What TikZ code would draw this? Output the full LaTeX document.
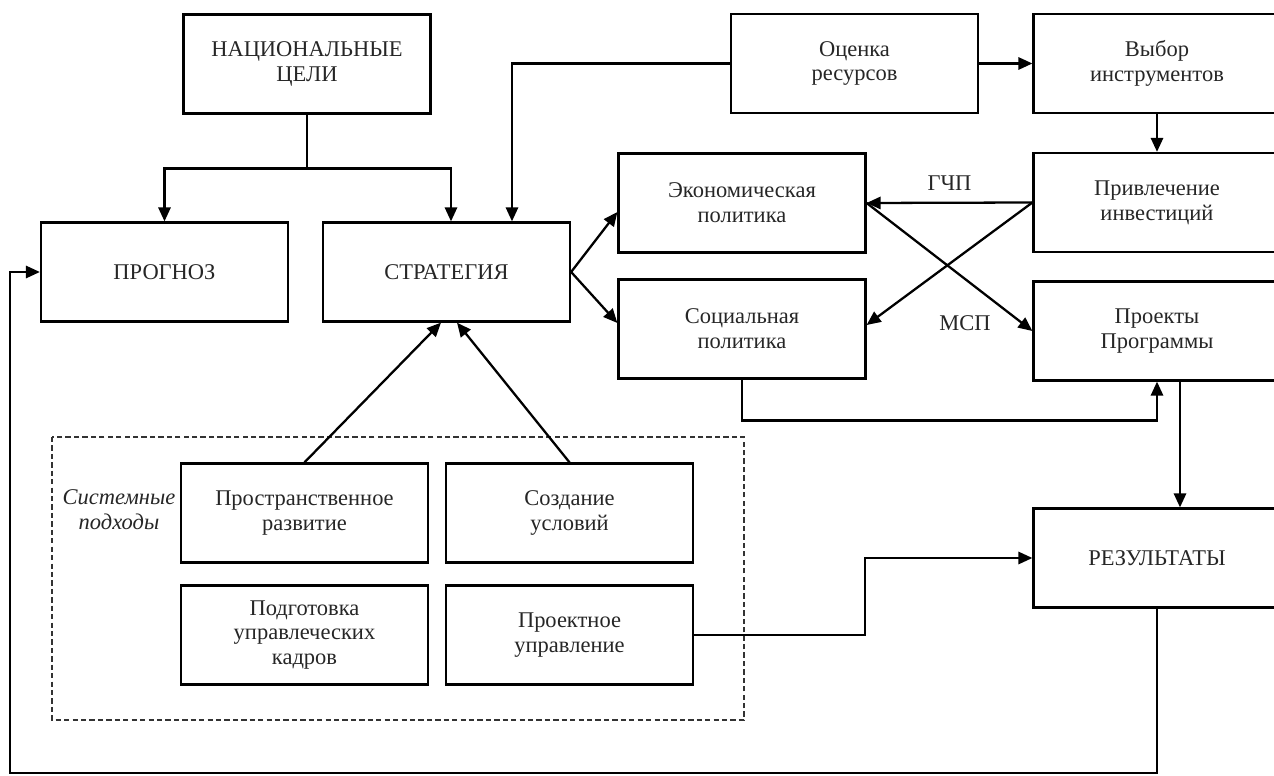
\documentclass[tikz,border=0pt]{standalone}
\usepackage{fontspec}
\setmainfont{Liberation Serif}
\usetikzlibrary{arrows.meta}

\begin{document}
\begin{tikzpicture}[x=0.02cm, y=-0.02cm, line width=1.3pt,
  font=\fontsize{12.8}{14.2}\selectfont, text=black!85,
  box/.style={draw=black, minimum width=4.94cm, minimum height=1.98cm, align=center, inner sep=1pt},
  arr/.style={-{Triangle[length=8pt,width=7pt]}},
  group/.style={draw=black!80, line width=1.2pt, dash pattern=on 3pt off 1.8pt}]

\useasboundingbox (0,0) rectangle (1274,776);
\clip (0,0) rectangle (1274,776);

\node[box] (nat) at (307,64) {НАЦИОНАЛЬНЫЕ\\ЦЕЛИ};
\node[box] (prog) at (164.5,272) {ПРОГНОЗ};
\node[box] (strat) at (446.5,272) {СТРАТЕГИЯ};
\node[box] (ocen) at (854.5,63.5) {Оценка\\ресурсов};
\node[box] (vybor) at (1157,63.5) {Выбор\\инструментов};
\node[box] (econ) at (742,203) {Экономическая\\политика};
\node[box] (privl) at (1157,202.5) {Привлечение\\инвестиций};
\node[box] (soc) at (742,329) {Социальная\\политика};
\node[box] (proj) at (1157,331) {Проекты\\Программы};
\node[box] (rez) at (1157,558) {РЕЗУЛЬТАТЫ};

% системные подходы
\draw[group] (52,437) rectangle (744,720);
\node[align=center, font=\fontsize{12.8}{14.2}\selectfont\itshape] (sys) at (119,510) {Системные\\подходы};
\node[box] (prostr) at (304.5,513) {Пространственное\\развитие};
\node[box] (sozd) at (569.5,513) {Создание\\условий};
\node[box] (podg) at (304.5,635) {Подготовка\\управлеческих\\кадров};
\node[box] (proekt) at (569.5,635) {Проектное\\управление};

\draw (nat.south) -- ++(0,54) coordinate (split);
\draw[arr] (split) -| (prog.north);
\draw[arr] (split) -| ([xshift=0.09cm]strat.north);
\draw[arr] (ocen.west) -| ([xshift=1.31cm]strat.north);
\draw[arr] (ocen) -- (vybor);
\draw[arr] (vybor) -- (privl);

\draw[arr] (strat.east) -- ([yshift=-0.18cm]econ.west);
\draw[arr] (strat.east) -- ([yshift=0.12cm]soc.west);
\draw[arr] (privl.west) -- node[above=3pt] (gchp) {ГЧП} (econ.east);
\draw[arr] (privl.west) -- ([yshift=0.08cm]soc.east);
\draw[arr] (econ.east) -- (proj.west);
\node (msp) at (965,323) {МСП};

\draw[arr] (soc.south) -- ++(0,41) -| (proj.south);
\draw[arr] ([xshift=0.46cm]proj.south) -- ([xshift=0.46cm]rez.north);
\draw[arr] (prostr.north) -- ([xshift=-0.11cm]strat.south);
\draw[arr] (sozd.north) -- ([xshift=0.21cm]strat.south);
\draw[arr] (proekt.east) -- ++(171,0) |- (rez.west);

% обратная связь
\coordinate (fb) at (10,773);
\draw[arr] (rez.south) |- (fb) |- (prog.west);

\end{tikzpicture}
\end{document}
